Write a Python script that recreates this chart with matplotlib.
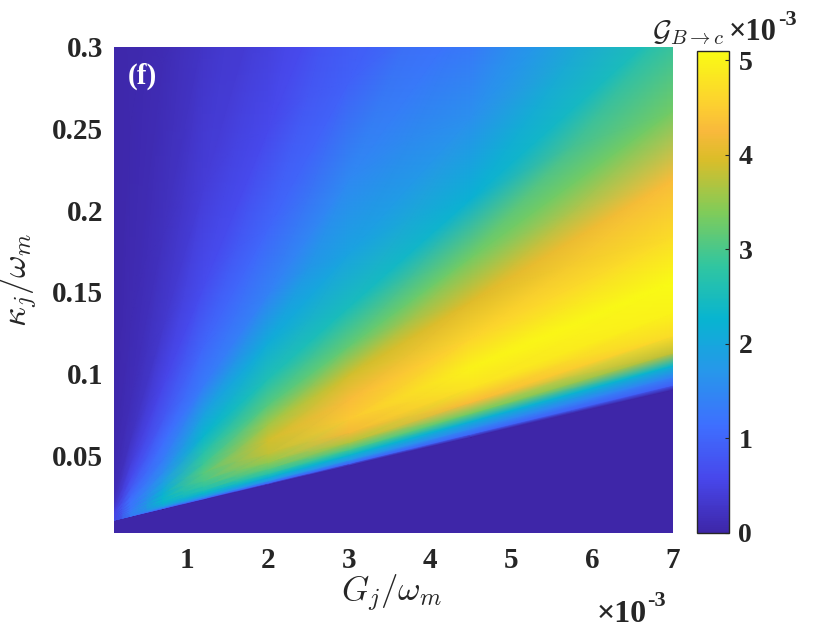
import numpy as np
import matplotlib
matplotlib.use('Agg')
import matplotlib.pyplot as plt
from matplotlib.colors import LinearSegmentedColormap

# G_j/omega_m sample columns (units of 1e-3)
g_cols = [0.1, 0.3, 0.7, 1.2, 2, 3, 4.5, 7]

# the map fans out from the lower-left tip: rows are rays kappa = apex + slope*G
kappa_apex = 0.009
ray_slopes = [-0.1, 0.0116, 0.0120, 0.0127, 0.0137, 0.0148, 0.0163, 0.0183,
              0.021, 0.025, 0.030, 0.036, 0.044, 0.055, 0.070, 0.090,
              0.12, 0.17, 0.25, 0.40, 0.80, 3.0]

# G_{B->c} (x1e-3), one row per ray, one value per G column
gain = [
    [0.00, 0.00, 0.00, 0.00, 0.00, 0.00, 0.00, 0.00],
    [0.00, 0.00, 0.00, 0.00, 0.00, 0.00, 0.00, 0.00],
    [0.50, 1.10, 1.00, 1.00, 1.00, 1.00, 1.00, 0.90],
    [0.50, 1.25, 1.40, 1.60, 1.70, 1.70, 1.50, 1.40],
    [0.50, 1.30, 1.80, 2.00, 2.20, 2.30, 2.20, 2.30],
    [0.50, 1.30, 2.00, 2.30, 2.70, 3.00, 3.30, 3.80],
    [0.50, 1.30, 2.20, 2.60, 3.10, 3.70, 4.30, 4.70],
    [0.50, 1.30, 2.30, 2.80, 3.50, 4.20, 4.80, 5.00],
    [0.50, 1.30, 2.30, 3.00, 3.80, 4.45, 5.00, 5.10],
    [0.50, 1.25, 2.20, 3.10, 3.90, 4.30, 4.60, 4.70],
    [0.50, 1.20, 2.00, 2.90, 3.60, 3.90, 4.00, 4.30],
    [0.50, 1.20, 1.80, 2.65, 3.10, 3.20, 3.30, 3.30],
    [0.50, 1.15, 1.55, 2.30, 2.60, 2.50, 2.20, 2.60],
    [0.50, 1.00, 1.30, 1.90, 2.10, 1.95, 1.60, 2.00],
    [0.40, 0.80, 1.10, 1.30, 1.40, 1.50, 1.10, 1.50],
    [0.30, 0.60, 0.80, 1.00, 1.00, 0.95, 0.80, 1.10],
    [0.20, 0.40, 0.55, 0.65, 0.60, 0.65, 0.60, 0.80],
    [0.12, 0.20, 0.30, 0.40, 0.35, 0.45, 0.45, 0.60],
    [0.08, 0.12, 0.18, 0.25, 0.22, 0.30, 0.30, 0.40],
    [0.05, 0.08, 0.10, 0.12, 0.15, 0.20, 0.20, 0.20],
    [0.03, 0.05, 0.05, 0.05, 0.10, 0.10, 0.10, 0.10],
    [0.02, 0.03, 0.03, 0.03, 0.05, 0.05, 0.05, 0.05],
]

x_ticks = [1, 2, 3, 4, 5, 6, 7]
y_ticks = [0.05, 0.1, 0.15, 0.2, 0.25, 0.3]
y_ticklabels = ['0.05', '0.1', '0.15', '0.2', '0.25', '0.3']
cbar_ticks = [0, 1, 2, 3, 4, 5]

# MATLAB parula, sampled
parula_pts = [
    (0.000, (0.2422, 0.1504, 0.6603)),
    (0.111, (0.2803, 0.2782, 0.9221)),
    (0.222, (0.2440, 0.4358, 0.9988)),
    (0.333, (0.1540, 0.5902, 0.9218)),
    (0.444, (0.0297, 0.7082, 0.8163)),
    (0.556, (0.1938, 0.7758, 0.6251)),
    (0.667, (0.5044, 0.7993, 0.3480)),
    (0.778, (0.8634, 0.7406, 0.1596)),
    (0.835, (0.9750, 0.7250, 0.2350)),
    (0.889, (0.9892, 0.8136, 0.1885)),
    (1.000, (0.9769, 0.9839, 0.0805)),
]
parula = LinearSegmentedColormap.from_list('parula', parula_pts, N=256)

plt.rcParams['mathtext.fontset'] = 'cm'
SERIF = 'Liberation Serif'
INK = '#262626'

fig = plt.figure(figsize=(8.4, 6.3), dpi=100)
ax = fig.add_axes([0.1357, 0.1544, 0.6655, 0.771])
cax = fig.add_axes([0.8298, 0.1544, 0.0377, 0.7646])

G = np.array(g_cols)
S = np.array(ray_slopes)
X = np.tile(G, (len(S), 1))
Y = kappa_apex + S[:, None] * G[None, :]
Z = np.array(gain)

ax.set_facecolor(parula(0.0))
mesh = ax.pcolormesh(X, Y, Z, shading='gouraud', cmap=parula, vmin=0, vmax=5.1)
ax.set_xlim(0.1, 7)
ax.set_ylim(0.0025, 0.3)

for sp in ax.spines.values():
    sp.set_visible(False)
ax.set_xticks(x_ticks)
ax.set_xticklabels([str(t) for t in x_ticks], fontfamily=SERIF, fontweight='bold', fontsize=21)
ax.set_yticks(y_ticks)
ax.set_yticklabels(y_ticklabels, fontfamily=SERIF, fontweight='bold', fontsize=21)
ax.tick_params(axis='both', length=0, colors=INK)
ax.tick_params(axis='x', pad=10)
ax.tick_params(axis='y', pad=8)

ax.set_xlabel(r'$G_j/\omega_m$', fontsize=25, color=INK)
ax.xaxis.set_label_coords(0.497, -0.083)
ax.set_ylabel(r'$\kappa_j/\omega_m$', fontsize=25, color=INK)
ax.yaxis.set_label_coords(-0.132, 0.52)

ax.text(0.025, 0.968, '(f)', transform=ax.transAxes, color='white',
        fontfamily=SERIF, fontweight='bold', fontsize=21, va='top', ha='left')

# x-axis exponent
fig.text(597 / 840, 1 - 622 / 630, '\u00d710', fontfamily=SERIF, fontweight='bold',
         fontsize=23, color=INK, va='baseline', ha='left')
fig.text(647 / 840, 1 - 606 / 630, '-3', fontfamily=SERIF, fontweight='bold',
         fontsize=16, color=INK, va='baseline', ha='left')

cb = fig.colorbar(mesh, cax=cax)
cb.set_ticks(cbar_ticks)
cb.ax.set_yticklabels([str(t) for t in cbar_ticks], fontfamily=SERIF,
                      fontweight='bold', fontsize=20)
cb.ax.tick_params(direction='in', length=3, width=0.8, pad=7, colors=INK)
cb.outline.set_linewidth(1.0)
cb.outline.set_edgecolor(INK)

# colorbar title
fig.text(652 / 840, 1 - 40 / 630, r'$\mathcal{G}_{B\to c}$', fontsize=21,
         color=INK, va='baseline', ha='left')
fig.text(729 / 840, 1 - 40 / 630, '\u00d710', fontfamily=SERIF, fontweight='bold',
         fontsize=22, color=INK, va='baseline', ha='left')
fig.text(778 / 840, 1 - 25 / 630, '-3', fontfamily=SERIF, fontweight='bold',
         fontsize=16, color=INK, va='baseline', ha='left')

fig.savefig('out.png', dpi=100)
